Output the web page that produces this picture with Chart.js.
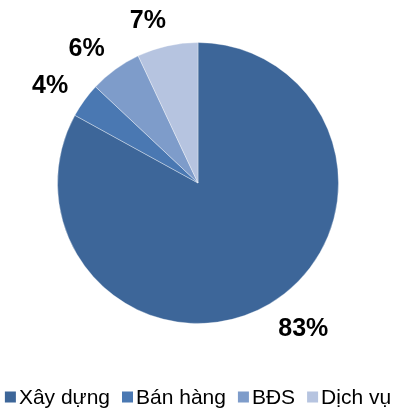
<!DOCTYPE html>
<html>
<head>
<meta charset="utf-8">
<script src="https://cdn.jsdelivr.net/npm/chart.js@4.4.1/dist/chart.umd.min.js"></script>
<style>
  html, body { margin: 0; padding: 0; background: #fff; overflow: hidden; }
  #wrap { width: 396px; height: 411px; position: relative; }
</style>
</head>
<body>
<div id="wrap"><canvas id="pieChart"></canvas></div>
<script>
// Chart data
const categories = ['Xây dựng', 'Bán hàng', 'BĐS', 'Dịch vụ'];
const shares = [83, 4, 6, 7];
const pctLabels = ['83%', '4%', '6%', '7%'];
const sliceColors = ['#3D6699', '#4A78B2', '#7E9CCA', '#B6C4E0'];

const FONT = '"Liberation Sans", Arial, sans-serif';

// Draw the % labels just outside each slice (box pushed away from the pie)
const outsideLabels = {
    id: 'outsideLabels',
    afterDatasetsDraw(chart) {
        const ctx = chart.ctx;
        const meta = chart.getDatasetMeta(0);
        ctx.save();
        ctx.font = 'bold 25px ' + FONT;
        ctx.fillStyle = '#000';
        ctx.textAlign = 'center';
        ctx.textBaseline = 'middle';
        meta.data.forEach((arc, i) => {
            const mid = (arc.startAngle + arc.endAngle) / 2;
            const dx = Math.cos(mid), dy = Math.sin(mid);
            const half = ctx.measureText(pctLabels[i]).width / 2;
            const x = arc.x + dx * (arc.outerRadius + 25) + Math.sign(dx) * (half - 4);
            const y = arc.y + dy * (arc.outerRadius + 27) + 2;
            ctx.fillText(pctLabels[i], x, y);
        });
        ctx.restore();
    }
};

// Compact legend row under the pie (square + text, tight spacing)
const bottomLegend = {
    id: 'bottomLegend',
    afterDraw(chart) {
        const ctx = chart.ctx;
        const box = 11, gap = 3, itemGap = 12;
        const rowY = 397;
        ctx.save();
        ctx.font = '21px ' + FONT;
        ctx.textBaseline = 'middle';
        const widths = chart.data.labels.map(t => ctx.measureText(t).width);
        const total = widths.reduce((s, w) => s + box + gap + w, 0) + itemGap * (widths.length - 1);
        let x = (chart.width - total) / 2;
        chart.data.labels.forEach((t, i) => {
            ctx.fillStyle = sliceColors[i];
            ctx.fillRect(x, rowY - box / 2, box, box);
            x += box + gap;
            ctx.fillStyle = '#000';
            ctx.fillText(t, x, rowY + 1);
            x += widths[i] + itemGap;
        });
        ctx.restore();
    }
};

new Chart(document.getElementById('pieChart'), {
    type: 'pie',
    data: {
        labels: categories,
        datasets: [{
            data: shares,
            backgroundColor: sliceColors,
            borderColor: 'rgba(255,255,255,0.35)',
            borderWidth: 1
        }]
    },
    options: {
        responsive: true,
        maintainAspectRatio: false,
        animation: false,
        layout: { padding: { top: 42, bottom: 87 } },
        plugins: {
            tooltip: { enabled: false },
            legend: { display: false }
        }
    },
    plugins: [outsideLabels, bottomLegend]
});
</script>
</body>
</html>
